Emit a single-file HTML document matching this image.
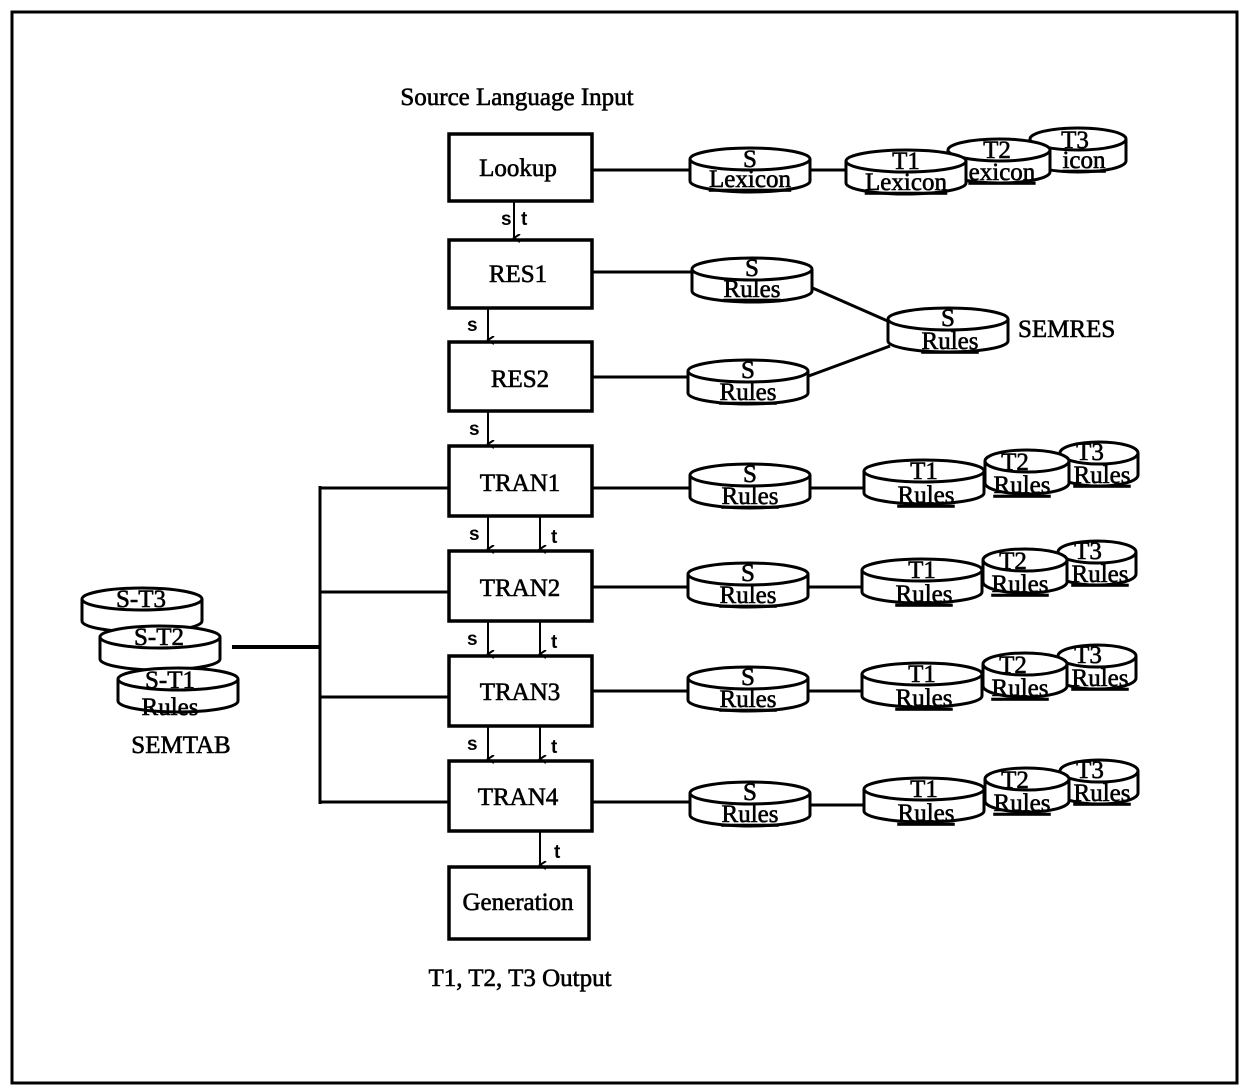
<!DOCTYPE html>
<html><head><meta charset="utf-8"><style>
html,body{margin:0;padding:0;background:#fff}
svg{display:block}
text{font-family:"Liberation Serif",serif;font-size:25px;fill:#000;stroke:#000;stroke-width:0.6}
.st{font-family:"Liberation Sans",sans-serif;font-size:19px;font-weight:bold;stroke-width:0}
</style></head><body>
<svg width="1253" height="1089" viewBox="0 0 1253 1089">
<defs>
<g id="c">
<path d="M0,11 V33 A60,11 0 0 0 120,33 V11" fill="#fff" stroke="#000" stroke-width="3" vector-effect="non-scaling-stroke"/>
<ellipse cx="60" cy="11" rx="60" ry="11" fill="#fff" stroke="#000" stroke-width="3" vector-effect="non-scaling-stroke"/>
</g>
<marker id="a" markerWidth="10" markerHeight="10" refX="4" refY="8" orient="auto" markerUnits="userSpaceOnUse"><path d="M0,2 L4,8 L8,2" fill="none" stroke="#000" stroke-width="2"/></marker>
</defs>
<rect x="12" y="12" width="1225" height="1071" fill="none" stroke="#000" stroke-width="3"/>

<text x="517" y="105" text-anchor="middle">Source Language Input</text>
<text x="520" y="986" text-anchor="middle">T1, T2, T3 Output</text>

<g fill="#fff" stroke="#000" stroke-width="3.5">
<rect x="449" y="134" width="143" height="67"/>
<rect x="449" y="240" width="143" height="68"/>
<rect x="449" y="342" width="143" height="69"/>
<rect x="449" y="446" width="143" height="70"/>
<rect x="449" y="551" width="143" height="70"/>
<rect x="449" y="656" width="143" height="70"/>
<rect x="449" y="761" width="143" height="70"/>
<rect x="449" y="867" width="140" height="72"/>
</g>
<g text-anchor="middle">
<text x="518" y="176">Lookup</text>
<text x="518" y="282">RES1</text>
<text x="520" y="387">RES2</text>
<text x="520" y="491">TRAN1</text>
<text x="520" y="596">TRAN2</text>
<text x="520" y="700">TRAN3</text>
<text x="518" y="805">TRAN4</text>
<text x="518" y="910">Generation</text>
</g>

<g stroke="#000" stroke-width="2" marker-end="url(#a)">
<line x1="514" y1="201" x2="514" y2="238"/>
<line x1="488" y1="308" x2="488" y2="340"/>
<line x1="488" y1="411" x2="488" y2="444"/>
<line x1="488" y1="516" x2="488" y2="549"/>
<line x1="540" y1="516" x2="540" y2="549"/>
<line x1="488" y1="621" x2="488" y2="654"/>
<line x1="540" y1="621" x2="540" y2="654"/>
<line x1="488" y1="726" x2="488" y2="759"/>
<line x1="540" y1="726" x2="540" y2="759"/>
<line x1="540" y1="831" x2="540" y2="865"/>
</g>
<g>
<text class="st" x="501" y="225">s</text><text class="st" x="521" y="225">t</text>
<text class="st" x="467" y="331">s</text>
<text class="st" x="469" y="435">s</text>
<text class="st" x="469" y="540">s</text><text class="st" x="551" y="543">t</text>
<text class="st" x="467" y="645">s</text><text class="st" x="551" y="648">t</text>
<text class="st" x="467" y="750">s</text><text class="st" x="551" y="753">t</text>
<text class="st" x="554" y="858">t</text>
</g>

<g stroke="#000" stroke-width="3" fill="none">
<line x1="592" y1="170" x2="690" y2="170"/>
<line x1="808" y1="170" x2="846" y2="170"/>
<line x1="592" y1="272" x2="692" y2="272"/>
<line x1="808" y1="286" x2="890" y2="322"/>
<line x1="592" y1="377" x2="688" y2="377"/>
<line x1="806" y1="377" x2="890" y2="346"/>
<line x1="592" y1="488" x2="690" y2="488"/>
<line x1="808" y1="488" x2="864" y2="488"/>
<line x1="592" y1="587" x2="688" y2="587"/>
<line x1="806" y1="587" x2="862" y2="587"/>
<line x1="592" y1="691" x2="688" y2="691"/>
<line x1="806" y1="691" x2="864" y2="691"/>
<line x1="592" y1="802" x2="690" y2="802"/>
<line x1="808" y1="805" x2="864" y2="805"/>
<line x1="320" y1="488" x2="449" y2="488"/>
<line x1="320" y1="592" x2="449" y2="592"/>
<line x1="320" y1="697" x2="449" y2="697"/>
<line x1="320" y1="802" x2="449" y2="802"/>
<line x1="320" y1="486" x2="320" y2="804"/>
<line x1="232" y1="647" x2="320" y2="647" stroke-width="4"/>
</g>

<use href="#c" transform="translate(1030,128) scale(0.8,1)"/>
<text x="1075" y="148" text-anchor="middle">T3</text><text x="1084" y="168" text-anchor="middle" text-decoration="underline">icon</text>
<use href="#c" transform="translate(948,139) scale(0.85,1)"/>
<text x="997" y="158" text-anchor="middle">T2</text><text x="1002" y="180" text-anchor="middle" text-decoration="underline">exicon</text>
<use href="#c" transform="translate(690,148)"/>
<text x="750" y="167" text-anchor="middle">S</text><text x="750" y="187" text-anchor="middle" text-decoration="underline">Lexicon</text>
<use href="#c" transform="translate(846,150)"/>
<text x="906" y="169" text-anchor="middle">T1</text><text x="906" y="190" text-anchor="middle" text-decoration="underline">Lexicon</text>

<use href="#c" transform="translate(692,258)"/>
<text x="752" y="276" text-anchor="middle">S</text><text x="752" y="297" text-anchor="middle" text-decoration="underline">Rules</text>
<use href="#c" transform="translate(688,360)"/>
<text x="748" y="378" text-anchor="middle">S</text><text x="748" y="400" text-anchor="middle" text-decoration="underline">Rules</text>
<use href="#c" transform="translate(888,308)"/>
<text x="948" y="326" text-anchor="middle">S</text><text x="950" y="349" text-anchor="middle" text-decoration="underline">Rules</text>
<text x="1018" y="337">SEMRES</text>

<g id="row">
<use href="#c" transform="translate(1060,442) scale(0.65,1)"/>
<text x="1090" y="460" text-anchor="middle">T3</text><text x="1102" y="483" text-anchor="middle" text-decoration="underline">Rules</text>
<use href="#c" transform="translate(985,450) scale(0.7,1)"/>
<text x="1015" y="470" text-anchor="middle">T2</text><text x="1022" y="493" text-anchor="middle" text-decoration="underline">Rules</text>
<use href="#c" transform="translate(690,464)"/>
<text x="750" y="482" text-anchor="middle">S</text><text x="750" y="504" text-anchor="middle" text-decoration="underline">Rules</text>
<use href="#c" transform="translate(864,460)"/>
<text x="924" y="479" text-anchor="middle">T1</text><text x="926" y="503" text-anchor="middle" text-decoration="underline">Rules</text>
</g>
<use href="#row" transform="translate(-2,99)"/>
<use href="#row" transform="translate(-2,203)"/>
<use href="#row" transform="translate(0,318)"/>

<use href="#c" transform="translate(82,588)"/>
<text x="141" y="607" text-anchor="middle">S-T3</text>
<use href="#c" transform="translate(100,626)"/>
<text x="159" y="645" text-anchor="middle">S-T2</text>
<use href="#c" transform="translate(118,668)"/>
<text x="170" y="688" text-anchor="middle">S-T1</text><text x="170" y="715" text-anchor="middle">Rules</text>
<text x="181" y="753" text-anchor="middle">SEMTAB</text>
</svg>
</body></html>
